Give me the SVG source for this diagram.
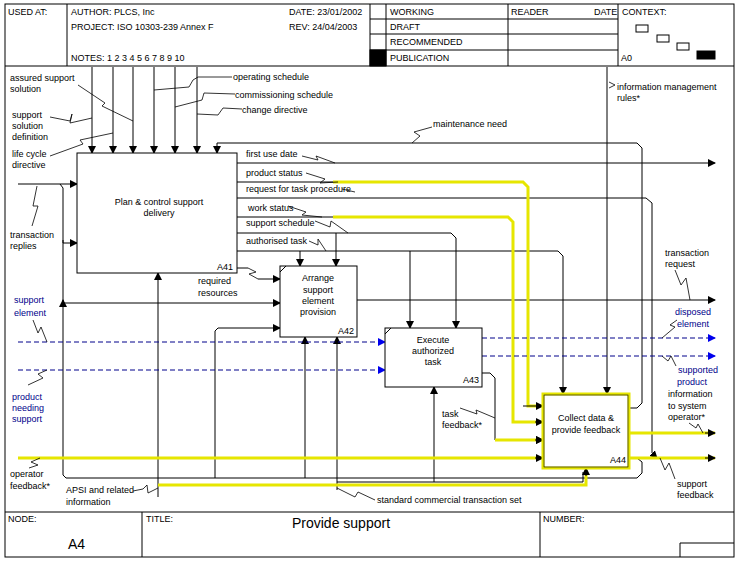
<svg xmlns="http://www.w3.org/2000/svg" width="742" height="567" viewBox="0 0 742 567">
<defs>
<marker id="a" markerWidth="8" markerHeight="8" refX="7" refY="4" orient="auto" markerUnits="userSpaceOnUse"><path d="M0,0 L8,4 L0,8 z" fill="#000"/></marker>
<marker id="b" markerWidth="8" markerHeight="8" refX="7" refY="4" orient="auto" markerUnits="userSpaceOnUse"><path d="M0,0 L8,4 L0,8 z" fill="#0000ee"/></marker>
</defs>
<style>
text{font-family:"Liberation Sans",Arial,sans-serif;font-size:9px;fill:#000}
.s{font-size:8.5px}
.bl{fill:#00008b}
.c{text-anchor:middle}
.box{fill:#fff;stroke:#000;stroke-width:1}
.l{fill:none;stroke:#000;stroke-width:1}
.y{fill:none;stroke:#e6e600;stroke-width:3}
.d{fill:none;stroke:#00008b;stroke-width:1;stroke-dasharray:5,3}
.q{fill:none;stroke:#000;stroke-width:0.8}
</style>
<rect width="742" height="567" fill="#fff"/>
<g id="frame" fill="none" stroke="#000">
<rect x="5" y="4" width="729" height="553"/>
<line x1="5" y1="66" x2="734" y2="66"/>
<line x1="67" y1="4" x2="67" y2="66"/>
<line x1="370" y1="4" x2="370" y2="66"/>
<line x1="386" y1="4" x2="386" y2="66"/>
<line x1="508" y1="4" x2="508" y2="66"/>
<line x1="618" y1="4" x2="618" y2="66"/>
<line x1="370" y1="19" x2="618" y2="19"/>
<line x1="370" y1="34" x2="618" y2="34"/>
<line x1="370" y1="50" x2="618" y2="50"/>
<rect x="370" y="50" width="16" height="16" fill="#000"/>
<rect x="636" y="25" width="12" height="7"/>
<rect x="657" y="35" width="12" height="7"/>
<rect x="677" y="43" width="12" height="7"/>
<rect x="697" y="51" width="18" height="8" fill="#000"/>
<line x1="5" y1="512" x2="734" y2="512"/>
<line x1="142" y1="512" x2="142" y2="557"/>
<line x1="540" y1="512" x2="540" y2="557"/>
<polyline points="680,557 680,543 734,543"/>
</g>
<g id="header-text" class="s">
<text x="8" y="15">USED AT:</text>
<text x="71" y="15">AUTHOR:  PLCS, Inc</text>
<text x="289" y="15">DATE: 23/01/2002</text>
<text x="71" y="30">PROJECT:  ISO 10303-239 Annex F</text>
<text x="289" y="30">REV:   24/04/2003</text>
<text x="71" y="61">NOTES:  1  2  3  4  5  6  7  8  9  10</text>
<text x="390" y="15">WORKING</text>
<text x="390" y="30">DRAFT</text>
<text x="390" y="45">RECOMMENDED</text>
<text x="390" y="61">PUBLICATION</text>
<text x="511" y="15">READER</text>
<text x="594" y="15">DATE</text>
<text x="622" y="15">CONTEXT:</text>
<text x="621" y="61">A0</text>
<text x="8" y="522">NODE:</text>
<text x="146" y="522">TITLE:</text>
<text x="543" y="522">NUMBER:</text>
<text x="68" y="549" style="font-size:14px">A4</text>
<text x="341" y="528" class="c" style="font-size:14px">Provide support</text>
</g>
<g id="connectors">
<g class="l" marker-end="url(#a)">
<line x1="92" y1="67" x2="92" y2="153"/>
<line x1="113" y1="67" x2="113" y2="153"/>
<line x1="133" y1="67" x2="133" y2="153"/>
<line x1="154" y1="67" x2="154" y2="153"/>
<line x1="175" y1="67" x2="175" y2="153"/>
<line x1="197" y1="67" x2="197" y2="153"/>
<polyline points="629,408 637,408 642,403 642,148 637,143 217,143 217,153"/>
<line x1="607" y1="67" x2="607" y2="394"/>
<line x1="18" y1="184" x2="77" y2="184"/>
<polyline points="60,184 63,188 63,243 77,243"/>
<polyline points="637,458 642,462 642,473 637,478 66,478 63,475 63,300"/>
<polyline points="63,240 63,303 280,303"/>
<polyline points="258,279 280,279"/>
<polyline points="215,478 215,331 218,328 280,328"/>
<polyline points="305,478 305,337"/>
<polyline points="337,490 337,337"/>
<polyline points="434,482 434,387"/>
<polyline points="158,497 158,273"/>
<line x1="237" y1="163" x2="715" y2="163"/>
<polyline points="237,198 646,198 652,203 652,453 657,458"/>
<polyline points="237,233 451,233 456,238 456,328"/>
<polyline points="336,233 336,266"/>
<polyline points="237,251 558,251 563,256 563,394"/>
<polyline points="300,251 300,266"/>
<polyline points="410,251 410,328"/>
<line x1="357" y1="300" x2="715" y2="300"/>
<polyline points="482,373 490,373 495,378 495,440 543,440"/>
</g>
<g class="l">
<polyline points="237,268 248,268"/>
<polyline points="337,482 583,482 583,472"/>
<polyline points="237,182 333,182"/>
<polyline points="237,217 333,217"/>
</g>
<g class="y">
<polyline points="333,182 523,182 528,187 528,406 543,406"/>
<polyline points="333,217 508,217 513,222 513,422 543,422"/>
<line x1="495" y1="440" x2="543" y2="440"/>
<line x1="18" y1="458" x2="543" y2="458"/>
<line x1="629" y1="433" x2="715" y2="433"/>
<line x1="629" y1="458" x2="715" y2="458"/>
<polyline points="158,485 586,485 586,470"/>
</g>
<g class="l" marker-end="url(#a)">
<polyline points="523,406 543,406"/>
<polyline points="535,422 543,422"/>
<polyline points="535,440 543,440"/>
<polyline points="535,458 543,458"/>
<polyline points="705,433 715,433"/>
<polyline points="705,458 715,458"/>
<polyline points="586,476 586,468"/>
</g>
<g class="d" marker-end="url(#b)">
<line x1="18" y1="342" x2="385" y2="342"/>
<line x1="18" y1="370" x2="385" y2="370"/>
<line x1="482" y1="338" x2="715" y2="338"/>
<line x1="482" y1="356" x2="715" y2="356"/>
</g>
<g class="q">
<polyline points="78,85 105,103 102,106 133,121"/>
<polyline points="50,117 70,121 72,114 70,123 92,118"/>
<polyline points="50,156 83,144 80,140 113,133"/>
<polyline points="154,90 189,87 193,80 198,77 232,77"/>
<polyline points="175,107 202,100 204,93 235,94"/>
<polyline points="197,114 218,115 223,108 242,109"/>
<polyline points="32,226 38,206 33,206 37,186"/>
<polyline points="412,143 420,136 414,132 432,127"/>
<polyline points="248,268 256,272 249,274 258,279"/>
<polyline points="302,156 318,160 316,156 335,163"/>
<polyline points="306,173 325,179 320,183 338,182"/>
<polyline points="342,189 355,192"/>
<polyline points="288,206 306,212 302,215 322,217"/>
<polyline points="315,221 330,227 331,221 348,233"/>
<polyline points="309,241 318,245 318,239 326,251"/>
<polyline points="609,82 615,85 609,88"/>
<polyline points="675,270 681,285 686,278 690,300"/>
<polyline points="677,320 670,325 675,327 662,338"/>
<polyline points="662,356 668,361 671,356 676,366"/>
<polyline points="689,423 696,428 698,424 703,433"/>
<polyline points="660,458 665,470 669,463 675,479"/>
<polyline points="33,320 38,333 41,327 47,342"/>
<polyline points="47,370 38,374 43,378 28,385"/>
<polyline points="40,458 31,462 38,465 29,468"/>
<polyline points="133,491 143,489 147,485 148,493 158,488"/>
<polyline points="337,488 355,497 358,492 375,500"/>
<polyline points="460,408 477,414 476,410 495,418"/>
</g>
</g>
<g id="A41">
<rect class="box" x="77" y="153" width="160" height="120"/>
<text class="c" x="159" y="205">Plan &amp; control support</text>
<text class="c" x="159" y="216">delivery</text>
<text x="217" y="270">A41</text>
</g>
<g id="A42">
<rect class="box" x="280" y="266" width="77" height="71"/>
<line x1="280" y1="272" x2="286" y2="266" stroke="#000"/>
<text class="c" x="318" y="281">Arrange</text>
<text class="c" x="318" y="293">support</text>
<text class="c" x="318" y="304">element</text>
<text class="c" x="318" y="315">provision</text>
<text x="338" y="334">A42</text>
</g>
<g id="A43">
<rect class="box" x="385" y="328" width="97" height="59"/>
<line x1="385" y1="334" x2="391" y2="328" stroke="#000"/>
<text class="c" x="433" y="343">Execute</text>
<text class="c" x="433" y="354">authorized</text>
<text class="c" x="433" y="365">task</text>
<text x="463" y="383">A43</text>
</g>
<g id="A44">
<rect x="543" y="394" width="86" height="74" fill="#fff" stroke="#e6e600" stroke-width="3"/>
<rect x="544" y="395" width="84" height="72" fill="none" stroke="#000" stroke-width="0.6"/>
<text class="c" x="586" y="421">Collect data &amp;</text>
<text class="c" x="586" y="433">provide feedback</text>
<text x="610" y="463">A44</text>
</g>
<g id="labels">
<text x="10" y="81">assured support</text>
<text x="10" y="92">solution</text>
<text x="12" y="118">support</text>
<text x="12" y="129">solution</text>
<text x="12" y="140">definition</text>
<text x="12" y="157">life cycle</text>
<text x="12" y="168">directive</text>
<text x="233" y="80">operating schedule</text>
<text x="235" y="98">commissioning schedule</text>
<text x="242" y="113">change directive</text>
<text x="10" y="238">transaction</text>
<text x="10" y="249">replies</text>
<text x="433" y="127">maintenance need</text>
<text x="617" y="90">information management</text>
<text x="617" y="101">rules*</text>
<text x="246" y="157">first use date</text>
<text x="246" y="176">product status</text>
<text x="246" y="192">request for task procedure</text>
<text x="248" y="211">work status</text>
<text x="246" y="226">support schedule</text>
<text x="246" y="244">authorised task</text>
<text x="198" y="284">required</text>
<text x="198" y="296">resources</text>
<text x="665" y="256">transaction</text>
<text x="665" y="267">request</text>
<text class="bl" x="14" y="303">support</text>
<text class="bl" x="14" y="316">element</text>
<text class="bl" x="12" y="400">product</text>
<text class="bl" x="12" y="411">needing</text>
<text class="bl" x="12" y="422">support</text>
<text class="bl" x="675" y="315">disposed</text>
<text class="bl" x="677" y="327">element</text>
<text class="bl" x="678" y="373">supported</text>
<text class="bl" x="677" y="385">product</text>
<text x="668" y="397">information</text>
<text x="668" y="409">to system</text>
<text x="668" y="420">operator*</text>
<text x="442" y="417">task</text>
<text x="442" y="428">feedback*</text>
<text x="10" y="477">operator</text>
<text x="10" y="489">feedback*</text>
<text x="66" y="493">APSI and related</text>
<text x="66" y="505">information</text>
<text x="377" y="503">standard commercial transaction set</text>
<text x="677" y="487">support</text>
<text x="677" y="498">feedback</text>
</g>
</svg>
